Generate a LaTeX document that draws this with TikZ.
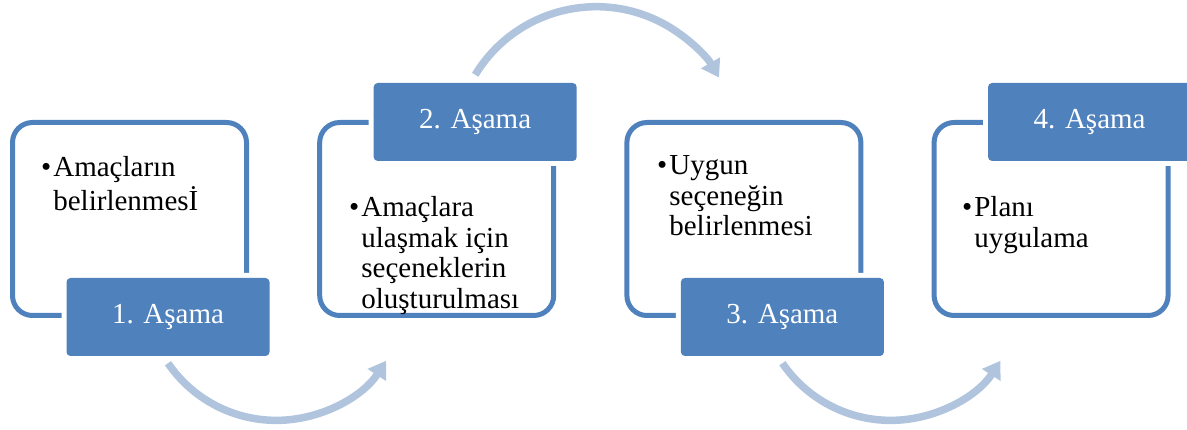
\documentclass[tikz,border=0pt]{standalone}
\usepackage{fontspec}
\setmainfont{Liberation Serif}
\usetikzlibrary{arrows.meta,calc}
\definecolor{acc}{RGB}{79,129,189}
\definecolor{arr}{RGB}{176,196,222}
\begin{document}
\begin{tikzpicture}[x=1pt,y=-1pt,
  outl/.style={draw=acc, line width=5pt, rounded corners=20pt, minimum width=234pt, minimum height=193pt, inner sep=0pt},
  stage/.style={fill=acc, rounded corners=4pt, minimum width=203pt, minimum height=78pt, inner sep=0pt, text=white, font=\fontsize{29}{30.5}\selectfont, preaction={draw=white, line width=10pt}},
  bul/.style={anchor=base west, inner sep=0pt, align=left, font=\fontsize{29}{30.5}\selectfont},
  flow/.style={draw=arr, line width=7.5pt, -{Triangle[length=17pt,width=21pt]}}]
\useasboundingbox (0,0) rectangle (1187,430);
\clip (0,0) rectangle (1187,430);

% outlines
\node[outl] (o1) at (129.5,219) {};
\node[outl] (o2) at (436.7,219) {};
\node[outl] (o3) at (743.9,219) {};
\node[outl] (o4) at (1051.1,219) {};

% stage boxes
\node[stage] (s1) at (168,317) {1. Aşama};
\node[stage] (s2) at (475.2,122) {2. Aşama};
\node[stage] (s3) at (782.4,317) {3. Aşama};
\node[stage] (s4) at (1089.6,122) {4. Aşama};

% arrows
\coordinate (a1s) at ($(s1.south)+(0,7)$);
\coordinate (a2s) at ($(s2.north)+(0,-8)$);
\coordinate (a3s) at ($(s3.south)+(0,7)$);
\draw[flow] (a1s) arc[start angle=145.7, end angle=33, radius=131];
\draw[flow] (a2s) arc[start angle=-148.7, end angle=-30, radius=141.7];
\draw[flow] (a3s) arc[start angle=145.7, end angle=33, radius=131];

% texts
\node[bul] (t1) at (41,177) {•\hspace{2pt}\begin{tabular}[t]{@{}l@{}}Amaçların\\belirlenmesİ\end{tabular}};
\node[bul] (t2) at (349,217) {•\hspace{2pt}\begin{tabular}[t]{@{}l@{}}Amaçlara\\ulaşmak için\\seçeneklerin\\oluşturulması\end{tabular}};
\node[bul] (t3) at (657,175) {•\hspace{2pt}\begin{tabular}[t]{@{}l@{}}Uygun\\seçeneğin\\belirlenmesi\end{tabular}};
\node[bul] (t4) at (962,217) {•\hspace{2pt}\begin{tabular}[t]{@{}l@{}}Planı\\uygulama\end{tabular}};
\end{tikzpicture}
\end{document}
